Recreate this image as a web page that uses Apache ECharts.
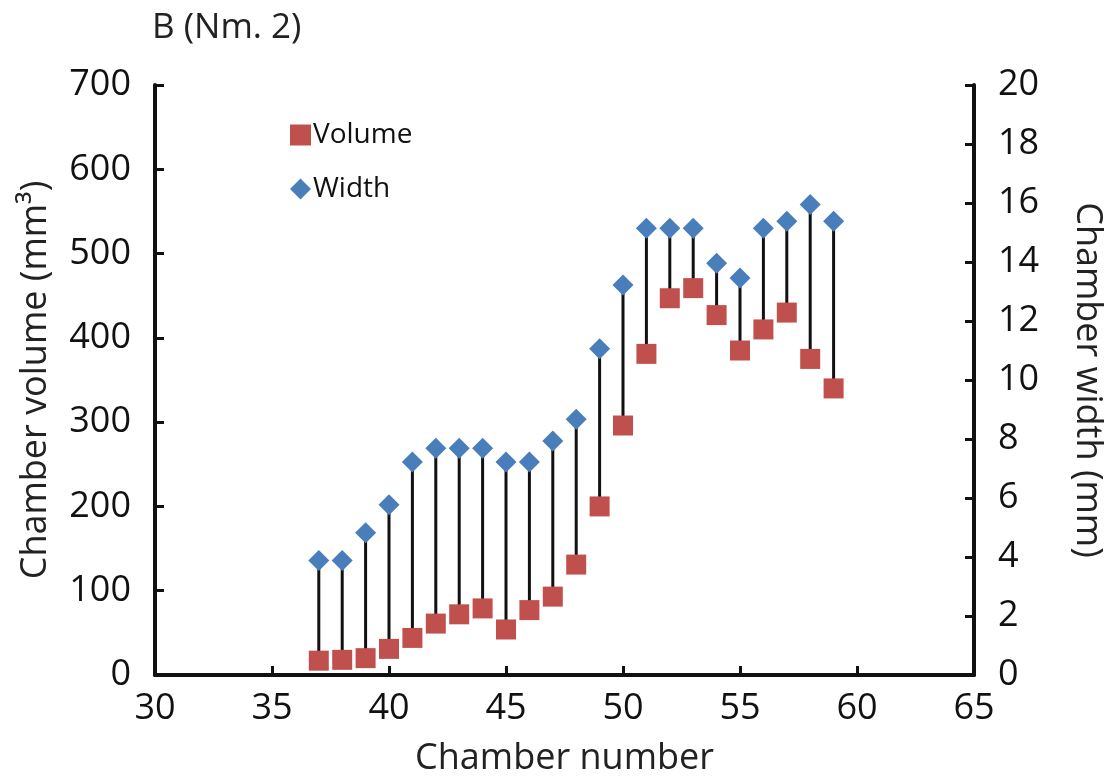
<!DOCTYPE html>
<html>
<head>
<meta charset="utf-8">
<script src="https://cdn.jsdelivr.net/npm/echarts@6/dist/echarts.min.js"></script>
<style>
  html, body { margin: 0; padding: 0; background: #fff; }
  #chart { width: 1113px; height: 782px; }
</style>
</head>
<body>
<div id="chart"></div>
<script>
// chamber numbers and readings taken off the figure
const chambers = [37, 38, 39, 40, 41, 42, 43, 44, 45, 46, 47, 48, 49, 50, 51, 52, 53, 54, 55, 56, 57, 58, 59]
const volumes = [17, 18, 20, 31, 44, 61, 72, 79, 54, 77, 93, 131, 200, 296, 381, 447, 459, 427, 385, 410, 430, 375, 340]
const widths = [3.88, 3.88, 4.82, 5.77, 7.22, 7.69, 7.69, 7.69, 7.22, 7.22, 7.93, 8.67, 11.06, 13.22, 15.14, 15.14, 15.14, 13.96, 13.46, 15.14, 15.38, 15.95, 15.38]

const volMax = 700
const widthMax = 20
const font = '"Open Sans", "Noto Sans", sans-serif'
const ink = '#111'

const chart = echarts.init(document.getElementById('chart'))

const axisCommon = {
  axisLine: { show: true, lineStyle: { color: ink, width: 4 } },
  axisTick: { show: true, inside: true, length: 9, lineStyle: { color: ink, width: 3 } },
  splitLine: { show: false },
  nameLocation: 'middle',
  nameTextStyle: { fontFamily: font, fontSize: 36, color: '#222' },
  axisLabel: { fontFamily: font, fontSize: 36, color: ink },
}

chart.setOption({
  animation: false,
  title: {
    text: 'B (Nm. 2)',
    left: 147,
    top: 6,
    textStyle: { fontFamily: font, fontSize: 35, fontWeight: 'normal', color: '#222' },
  },
  legend: {
    orient: 'vertical',
    left: 285,
    top: 116,
    itemWidth: 21,
    itemHeight: 21,
    itemGap: 26,
    textStyle: { fontFamily: font, fontSize: 28, color: ink, padding: [0, 0, 0, -3] },
    data: [
      { name: 'Volume', icon: 'rect' },
      { name: 'Width', icon: 'diamond' },
    ],
  },
  grid: { left: 155, right: 138, top: 85, bottom: 103 },
  xAxis: {
    ...axisCommon,
    type: 'value',
    min: 30,
    max: 65,
    interval: 5,
    name: 'Chamber number',
    nameGap: 66,
    axisLabel: { ...axisCommon.axisLabel, margin: 16 },
  },
  yAxis: [
    {
      ...axisCommon,
      type: 'value',
      position: 'left',
      min: 0,
      max: volMax,
      interval: 100,
      name: 'Chamber volume (mm³)',
      nameGap: 101,
      nameRotate: 90,
      axisLabel: { ...axisCommon.axisLabel, margin: 24 },
    },
    {
      ...axisCommon,
      type: 'value',
      position: 'right',
      min: 0,
      max: widthMax,
      interval: 2,
      name: 'Chamber width (mm)',
      nameGap: 95,
      nameRotate: -90,
      axisLabel: { ...axisCommon.axisLabel, margin: 24 },
    },
  ],
  series: [
    {
      // black drop lines between each width and volume marker
      type: 'custom',
      yAxisIndex: 0,
      silent: true,
      z: 1,
      data: chambers.map((c, i) => [c, volumes[i], widths[i]]),
      encode: { x: 0, y: 1 },
      renderItem: function (params, api) {
        const x = api.value(0)
        const p1 = api.coord([x, api.value(1)])
        const p2 = api.coord([x, api.value(2) * volMax / widthMax])
        return {
          type: 'line',
          shape: { x1: p1[0], y1: p1[1], x2: p2[0], y2: p2[1] },
          style: { stroke: '#111', lineWidth: 3 },
        }
      },
    },
    {
      name: 'Volume',
      type: 'scatter',
      yAxisIndex: 0,
      symbol: 'rect',
      symbolSize: 20,
      z: 3,
      itemStyle: { color: '#C0504D', opacity: 1 },
      data: chambers.map((c, i) => [c, volumes[i]]),
    },
    {
      name: 'Width',
      type: 'scatter',
      yAxisIndex: 1,
      symbol: 'diamond',
      symbolSize: 21,
      z: 3,
      itemStyle: { color: '#4A7EBB', opacity: 1 },
      data: chambers.map((c, i) => [c, widths[i]]),
    },
  ],
})
</script>
</body>
</html>
